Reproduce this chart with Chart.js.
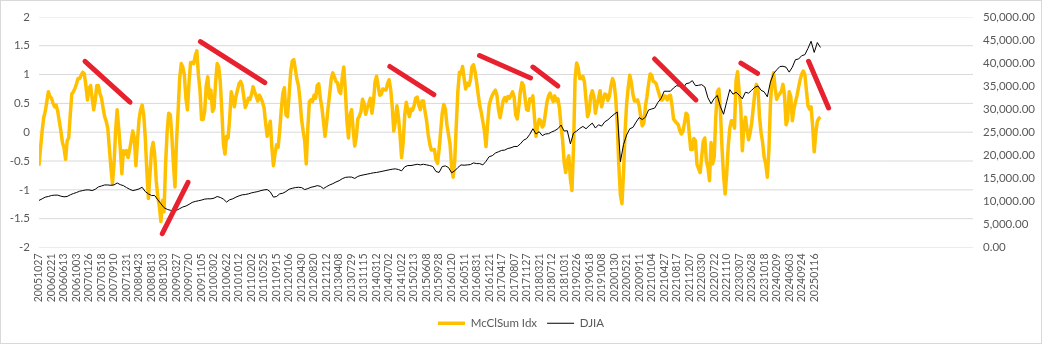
<!DOCTYPE html>
<html lang="en">
<head>
<meta charset="UTF-8">
<title>McClSum Idx vs DJIA</title>
<style>
  body { margin: 0; background: #fff; }
  canvas { display: block; }
</style>
</head>
<body>
<canvas id="chart" width="1042" height="344"></canvas>
<script src="https://cdn.jsdelivr.net/npm/chart.js"></script>
<script>
// category labels, one every ~78 trading days
const dateLabels = [
  '20051027', '20060221', '20060613', '20061003', '20070126', '20070518', '20070910', '20071231',
  '20080423', '20080813', '20081203', '20090327', '20090720', '20091105', '20100302', '20100622',
  '20101012', '20110202', '20110525', '20110915', '20120106', '20120430', '20120820', '20121212',
  '20130408', '20130729', '20131115', '20140312', '20140702', '20141022', '20150213', '20150608',
  '20150928', '20160120', '20160511', '20160831', '20161221', '20170417', '20170807', '20171127',
  '20180321', '20180712', '20181031', '20190226', '20190618', '20191008', '20200130', '20200521',
  '20200911', '20210104', '20210427', '20210817', '20211207', '20220330', '20220722', '20221110',
  '20230307', '20230628', '20231018', '20240209', '20240603', '20240924', '20250116'
];

// left axis tick levels (one gridline each)
const gridLevels = [-2, -1.5, -1, -0.5, 0, 0.5, 1, 1.5, 2];

// McClellan summation index, 8 readings per label interval (one row each)
const mcclStep = 0.125;
const mcclSum = [
  -0.58, -0.27, 0.02, 0.25, 0.36, 0.53, 0.70, 0.62,
  0.59, 0.50, 0.44, 0.47, 0.36, 0.19, 0.02, -0.18,
  -0.27, -0.47, -0.15, -0.10, 0.30, 0.67, 0.70, 0.76,
  0.84, 0.93, 0.93, 0.99, 1.04, 1.01, 0.81, 0.56,
  0.76, 0.81, 0.59, 0.39, 0.56, 0.81, 0.81, 0.67,
  0.59, 0.42, 0.27, 0.19, 0.07, -0.27, -0.61, -0.89,
  -0.55, 0.02, 0.39, 0.07, -0.27, -0.72, -0.32, -0.38,
  -0.32, -0.44, -0.30, -0.15, 0.02, -0.10, -0.58, -0.15,
  0.22, 0.39, 0.47, 0.30, -0.10, -0.67, -1.15, -0.72,
  -0.32, -0.18, -0.38, -0.84, -1.12, -1.29, -1.55, -1.18,
  -1.38, -0.55, 0.02, 0.33, 0.30, -0.07, -0.55, -0.95,
  -0.15, 0.36, 0.93, 1.19, 1.13, 0.99, 0.59, 0.39,
  0.87, 1.21, 1.21, 1.19, 1.33, 1.41, 0.99, 0.73,
  0.22, 0.22, 0.36, 0.81, 0.96, 0.59, 0.73, 0.36,
  0.42, 0.87, 1.19, 1.13, 0.87, 0.36, -0.21, -0.38,
  -0.07, -0.10, 0.25, 0.70, 0.59, 0.44, 0.62, 0.73,
  0.84, 0.88, 0.81, 0.62, 0.43, 0.50, 0.59, 0.57,
  0.66, 0.79, 0.70, 0.62, 0.54, 0.64, 0.59, 0.52,
  0.42, 0.16, -0.07, 0.07, 0.19, -0.27, -0.58, -0.38,
  -0.22, -0.26, 0.02, 0.39, 0.67, 0.77, 0.30, 0.27,
  0.64, 1.04, 1.23, 1.26, 1.10, 0.92, 0.81, 0.56,
  0.22, 0.02, -0.15, -0.55, 0.07, 0.53, 0.56, 0.53,
  0.64, 0.59, 0.81, 0.84, 0.59, 0.43, 0.19, -0.07,
  0.16, 0.43, 0.67, 0.93, 1.03, 0.96, 0.88, 0.86,
  0.71, 0.67, 0.94, 1.13, 0.73, 0.20, -0.10, 0.30,
  0.39, 0.05, -0.24, -0.09, 0.23, 0.28, 0.36, 0.57,
  0.50, 0.31, 0.42, 0.50, 0.59, 0.33, 0.53, 0.87,
  0.97, 0.81, 0.64, 0.66, 0.75, 0.74, 0.73, 0.84,
  0.91, 0.75, 0.44, 0.02, 0.18, 0.46, 0.26, -0.05,
  -0.44, -0.18, 0.30, 0.52, 0.37, 0.27, 0.40, 0.38,
  0.46, 0.59, 0.61, 0.47, 0.39, 0.54, 0.54, 0.36,
  0.20, -0.04, -0.20, -0.31, -0.31, -0.30, -0.48, -0.54,
  -0.30, 0.02, 0.33, 0.48, 0.40, 0.13, -0.04, -0.21,
  -0.61, -0.78, -0.50, 0.13, 0.71, 1.04, 1.01, 1.14,
  0.93, 0.75, 0.85, 0.81, 0.90, 1.13, 1.17, 1.05,
  0.87, 0.66, 0.46, 0.34, 0.18, 0.02, -0.25, 0.13,
  0.46, 0.57, 0.64, 0.69, 0.73, 0.64, 0.39, 0.25,
  0.40, 0.55, 0.60, 0.54, 0.62, 0.59, 0.64, 0.70,
  0.61, 0.30, 0.23, 0.44, 0.71, 0.86, 0.81, 0.59,
  0.39, 0.38, 0.58, 0.54, 0.63, 0.26, -0.07, 0.10,
  0.22, 0.20, 0.09, 0.13, 0.33, 0.52, 0.63, 0.68,
  0.60, 0.53, 0.63, 0.54, 0.58, 0.42, 0.10, -0.13,
  -0.52, -0.70, -0.50, -0.41, -0.81, -1.01, -0.27, 0.93,
  1.20, 1.12, 0.93, 0.93, 0.97, 0.87, 0.56, 0.27,
  0.36, 0.63, 0.72, 0.62, 0.33, 0.48, 0.59, 0.72,
  0.44, 0.56, 0.66, 0.65, 0.55, 0.63, 0.81, 0.93,
  0.84, 0.59, 0.13, -0.58, -1.09, -1.24, -0.70, 0.02,
  0.50, 0.78, 0.99, 0.86, 0.66, 0.54, 0.54, 0.56,
  0.46, 0.27, 0.11, 0.16, 0.45, 0.62, 0.83, 1.01,
  0.99, 0.88, 0.87, 0.83, 0.73, 0.64, 0.56, 0.56,
  0.63, 0.62, 0.56, 0.63, 0.64, 0.47, 0.23, 0.19,
  0.16, 0.13, 0.03, -0.03, 0.01, 0.16, 0.33, 0.30,
  -0.01, -0.30, -0.30, -0.11, -0.15, -0.56, -0.63, -0.70,
  -0.43, -0.16, -0.10, -0.50, -0.61, -0.84, -0.18, -0.55,
  -0.44, 0.25, 0.70, 0.75, 0.37, -0.27, -0.75, -1.07,
  -0.72, -0.24, 0.07, 0.20, 0.20, 0.07, 0.90, 1.05,
  0.70, 0.43, -0.32, 0.10, 0.26, 0.05, -0.13, -0.01,
  0.16, 0.42, 0.68, 0.83, 0.76, 0.27, -0.01, -0.18,
  -0.44, -0.55, -0.78, -0.32, 0.50, 0.90, 1.03, 0.76,
  0.57, 0.63, 0.67, 0.71, 0.83, 0.64, 0.13, 0.22,
  0.70, 0.62, 0.20, 0.40, 0.52, 0.64, 0.78, 0.91,
  1.01, 1.06, 1.00, 0.73, 0.46, 0.40, 0.44, 0.10,
  -0.34, -0.02, 0.19, 0.24, 0.26
];

// Dow Jones close, 4 readings per label interval
const djiaStep = 0.25;
const djia = [
  10205, 10560, 10920, 11060,   11275, 11350, 11350, 11130,   10990, 11060, 11420, 11700,
  11920, 12200, 12345, 12490,   12490, 12345, 12630, 13130,   13340, 13560, 13560, 13490,
  13560, 13990, 13630, 13415,   12990, 12630, 12345, 12490,   12700, 13060, 12130, 11630,
  11275, 11275, 10350, 9490,    8640, 8280, 8070, 7850,       8070, 8420, 8780, 8990,
  9350, 9780, 9990, 10130,      10280, 10490, 10560, 10560,   10700, 11060, 10850, 10490,
  9850, 10350, 10560, 10920,    11200, 11420, 11490, 11630,   11850, 11990, 12130, 12345,
  12490, 12560, 12060, 10920,   11060, 11630, 11770, 12130,   12630, 12840, 12990, 13060,
  12990, 12560, 12770, 13060,   13200, 13415, 13270, 12770,   13200, 13560, 13840, 14200,
  14485, 14910, 15200, 15270,   15270, 14980, 15410, 15630,   15770, 15910, 16050, 16200,
  16270, 16410, 16550, 16700,   16840, 16980, 17050, 16910,   16620, 17480, 17770, 17770,
  17910, 18050, 17910, 18050,   17910, 17770, 17550, 16480,   16270, 17550, 17690, 17340,
  16200, 16620, 17340, 17910,   17840, 17910, 17980, 18340,   18190, 18190, 17910, 18690,
  19690, 19900, 20470, 20760,   21050, 21120, 21470, 21620,   21900, 21900, 22470, 23260,
  23610, 24540, 25750, 24610,   25110, 24260, 24610, 24680,   25040, 25330, 25750, 26540,
  25250, 25330, 22470, 24830,   25250, 25820, 26250, 25750,   26400, 26970, 25900, 26610,
  26320, 27250, 27680, 28320,   28890, 29390, 18600, 22330,   24400, 25750, 26040, 27180,
  28180, 27750, 28250, 29820,   30030, 30250, 31460, 32310,   33880, 33880, 33880, 34600,
  35100, 34950, 34380, 35520,   35670, 36170, 35100, 35170,   35310, 34810, 32460, 31170,
  32310, 32960, 30530, 28890,   31600, 34240, 33240, 33670,   33030, 32240, 33670, 33460,
  34100, 34740, 35030, 34100,   33740, 32670, 35880, 37730,   38520, 39230, 39300, 39090,
  38020, 39090, 40730, 40870,   41590, 41800, 43160, 44720,   42300, 44440, 43370
];

// hand-drawn divergence lines: [x0, y0, x1, y1] in label index / left-axis units
const trendLines = [
  [3.68, 1.23, 7.28, 0.52],
  [9.86, -1.76, 11.92, -0.87],
  [12.91, 1.57, 18.06, 0.86],
  [28.06, 1.14, 31.58, 0.65],
  [35.23, 1.33, 39.31, 0.94],
  [39.50, 1.13, 41.50, 0.80],
  [49.23, 1.27, 52.54, 0.56],
  [56.14, 1.20, 57.47, 1.02],
  [61.55, 1.23, 63.15, 0.42]
];

const X_MAX = 74.7;

Chart.defaults.font.family = 'Lato, "Liberation Sans", sans-serif';
Chart.defaults.color = '#595959';

const grey = '#595959';
const gridGrey = '#d9d9d9';

const datasets = [
  {
    label: 'McClSum Idx',
    data: mcclSum.map((v, i) => ({ x: i * mcclStep, y: v })),
    yAxisID: 'y',
    borderColor: '#ffc000',
    borderWidth: 3.5,
    borderJoinStyle: 'round',
    pointRadius: 0,
    order: 2
  },
  {
    label: 'DJIA',
    data: djia.map((v, i) => ({ x: i * djiaStep, y: v })),
    yAxisID: 'y2',
    borderColor: '#000000',
    borderWidth: 1,
    pointRadius: 0,
    order: 1
  }
];

trendLines.forEach(([x0, y0, x1, y1]) => {
  datasets.push({
    label: '',
    data: [{ x: x0, y: y0 }, { x: x1, y: y1 }],
    yAxisID: 'y',
    borderColor: '#e8212e',
    borderWidth: 5,
    borderCapStyle: 'round',
    pointRadius: 0,
    order: 0
  });
});

// gridlines as flat lines across the plot, drawn first so the series sit on top
gridLevels.forEach(level => {
  datasets.push({
    label: '',
    data: [{ x: 0, y: level }, { x: X_MAX, y: level }],
    yAxisID: 'y',
    borderColor: gridGrey,
    borderWidth: 1,
    pointRadius: 0,
    order: 3
  });
});

// thin frame round the whole chart
const frame = {
  id: 'frame',
  afterDraw(chart) {
    const ctx = chart.ctx;
    ctx.save();
    ctx.strokeStyle = gridGrey;
    ctx.lineWidth = 1;
    ctx.strokeRect(0.5, 0.5, chart.width - 1, chart.height - 1);
    ctx.restore();
  }
};

new Chart(document.getElementById('chart'), {
  type: 'line',
  data: { datasets },
  plugins: [frame],
  options: {
    responsive: false,
    animation: false,
    events: [],
    layout: { padding: { top: 14, left: 0, right: 0, bottom: 5 } },
    plugins: {
      tooltip: { enabled: false },
      legend: {
        position: 'bottom',
        labels: {
          usePointStyle: true,
          pointStyle: 'line',
          pointStyleWidth: 27,
          padding: 10,
          color: grey,
          font: { size: 11.5 },
          filter: item => item.datasetIndex < 2,
          sort: (a, b) => a.datasetIndex - b.datasetIndex
        }
      }
    },
    scales: {
      x: {
        type: 'linear',
        min: 0,
        max: X_MAX,
        afterBuildTicks: scale => {
          scale.ticks = dateLabels.map((_, i) => ({ value: i }));
        },
        afterFit: scale => { scale.height = 60; },
        ticks: {
          autoSkip: false,
          minRotation: 90,
          maxRotation: 90,
          padding: 6,
          color: grey,
          font: { size: 10.5 },
          callback: v => dateLabels[v]
        },
        grid: { display: false, drawTicks: false },
        border: { display: false }
      },
      y: {
        position: 'left',
        min: -2,
        max: 2,
        afterFit: scale => { scale.width = 39; },
        ticks: {
          stepSize: 0.5,
          padding: 9,
          color: grey,
          font: { size: 11.5 },
          callback: v => String(v)
        },
        grid: { display: false, drawTicks: false },
        border: { display: false }
      },
      y2: {
        position: 'right',
        min: 0,
        max: 50000,
        afterFit: scale => { scale.width = 69; },
        ticks: {
          stepSize: 5000,
          padding: 10,
          color: grey,
          font: { size: 11.5 },
          callback: v => v.toLocaleString('en-US', { minimumFractionDigits: 2, maximumFractionDigits: 2 })
        },
        grid: { display: false, drawTicks: false },
        border: { display: false }
      }
    }
  }
});
</script>
</body>
</html>
